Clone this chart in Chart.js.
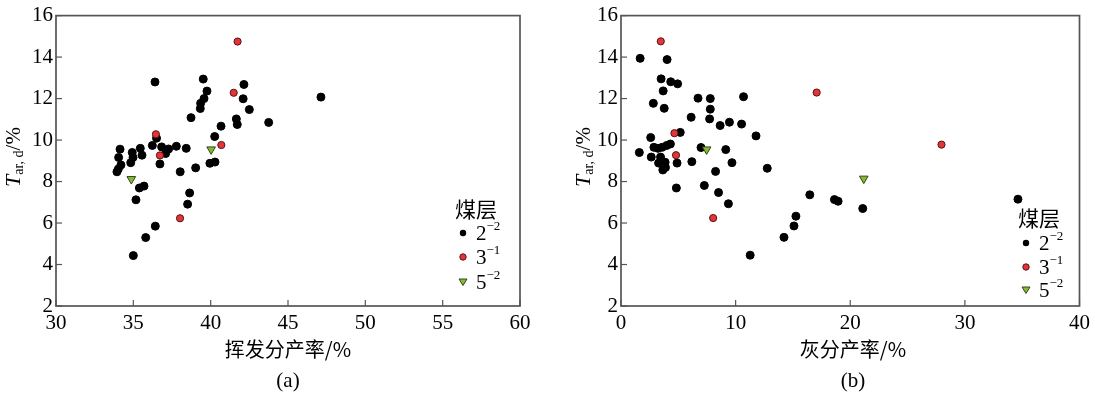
<!DOCTYPE html>
<html>
<head>
<meta charset="utf-8">
<script src="https://cdn.jsdelivr.net/npm/chart.js@4.4.1/dist/chart.umd.min.js"></script>
<style>
  body{margin:0;background:#fff;width:1095px;height:395px;overflow:hidden;}
  canvas{position:absolute;top:0;}
</style>
</head>
<body>
<canvas id="chartA" width="548" height="395" style="left:0"></canvas>
<canvas id="chartB" width="547" height="395" style="left:548px"></canvas>
<script>
// ---- data (a) volatile yield vs tar yield ----
const volX_22 = [36.4,39.52,42.15,39.76,42.1,39.57,39.35,39.33,42.5,38.73,47.13,43.75,41.66,41.72,40.67,40.26,36.5,
  34.14,34.93,35.45,36.23,36.83,37.28,37.78,38.42,34.05,34.98,35.56,37.09,34.2,34.83,34.03,33.94,36.72,38.03,39.03,
  39.95,40.28,35.39,35.69,35.17,38.64,38.51,36.42,35.8,35.0];
const volY_22 = [12.8,12.94,12.68,12.36,11.99,12.0,11.77,11.52,11.47,11.08,12.07,10.85,11.02,10.75,10.67,10.17,10.09,
  9.56,9.4,9.6,9.74,9.67,9.57,9.7,9.6,9.16,9.16,9.27,9.35,8.8,8.91,8.6,8.47,8.85,8.47,8.66,
  8.88,8.94,7.69,7.78,7.12,7.45,6.91,5.85,5.3,4.43];
const volX_31 = [41.74,41.49,36.46,40.69,36.72,38.02];
const volY_31 = [14.75,12.28,10.28,9.76,9.26,6.23];
const volX_52 = [40.03,34.87];
const volY_52 = [9.55,8.12];

// ---- data (b) ash yield vs tar yield ----
const ashX_22 = [1.67,4.02,3.5,4.34,4.94,3.68,6.72,7.79,10.69,2.82,7.79,3.77,6.12,7.73,9.46,10.52,8.65,11.78,5.17,2.59,
  6.98,9.14,1.6,2.87,3.22,3.59,3.99,4.31,2.64,3.45,3.28,3.85,4.89,6.18,3.65,3.88,8.25,9.68,12.76,4.83,7.27,8.51,9.37,
  11.27,14.22,15.09,15.26,16.47,18.62,18.94,21.09,34.63];
const ashY_22 = [13.94,13.88,12.95,12.81,12.71,12.37,12.02,12.0,12.09,11.77,11.49,11.53,11.1,11.02,10.86,10.77,10.7,10.2,10.37,10.12,
  9.64,9.54,9.4,9.65,9.6,9.65,9.74,9.81,9.18,9.18,8.89,8.93,8.89,8.96,8.56,8.68,8.49,8.91,8.64,7.69,7.81,7.47,6.93,
  4.45,5.31,5.86,6.33,7.36,7.13,7.05,6.7,7.15];
const ashX_31 = [3.47,17.07,4.66,27.96,4.8,8.04];
const ashY_31 = [14.76,12.29,10.33,9.78,9.27,6.24];
const ashX_52 = [7.47,21.18];
const ashY_52 = [9.55,8.14];

const seamLabels = ["2", "3", "5"];
const seamSups = ["\u22122", "\u22121", "\u22122"];

const AXIS = "#555555";
const SERIF = "'Liberation Serif','Times New Roman',serif";
const CJK = "'Noto Sans CJK SC','Noto Sans CJK JP',sans-serif";

function pts(xs, ys){ return xs.map((x,i)=>({x:x, y:ys[i]})); }

function drawMarker(ctx, kind, x, y){
  ctx.save();
  ctx.lineWidth = 1;
  if(kind===0){ ctx.fillStyle="#000"; ctx.beginPath(); ctx.arc(x,y,3.2,0,Math.PI*2); ctx.fill(); }
  else if(kind===1){ ctx.fillStyle="#e3343a"; ctx.strokeStyle="#5a1212"; ctx.beginPath(); ctx.arc(x,y,3.2,0,Math.PI*2); ctx.fill(); ctx.stroke(); }
  else { ctx.fillStyle="#86b83a"; ctx.strokeStyle="#2f4a12"; ctx.beginPath(); ctx.moveTo(x-4,y-3); ctx.lineTo(x+4,y-3); ctx.lineTo(x,y+3.5); ctx.closePath(); ctx.fill(); ctx.stroke(); }
  ctx.restore();
}

function makePanel(id, opt){
  const deco = {
    id: "deco",
    afterDraw(chart){
      const ctx = chart.ctx, a = chart.chartArea;
      const xs = chart.scales.x, ys = chart.scales.y;
      ctx.save();
      // frame
      ctx.strokeStyle = AXIS; ctx.lineWidth = 1.7;
      ctx.strokeRect(a.left, a.top, a.right - a.left, a.bottom - a.top);
      // inward ticks
      ctx.lineWidth = 1.2;
      xs.ticks.forEach(t=>{
        const px = xs.getPixelForValue(t.value);
        ctx.beginPath(); ctx.moveTo(px, a.bottom); ctx.lineTo(px, a.bottom - 6); ctx.stroke();
      });
      ys.ticks.forEach(t=>{
        const py = ys.getPixelForValue(t.value);
        ctx.beginPath(); ctx.moveTo(a.left, py); ctx.lineTo(a.left + 6, py); ctx.stroke();
      });
      ctx.fillStyle = "#000";
      // x title and panel tag
      ctx.textAlign = "center"; ctx.textBaseline = "middle";
      ctx.font = "20px " + CJK;
      ctx.fillText(opt.xTitle, opt.xTitleX, 349);
      ctx.font = "21px " + SERIF;
      ctx.fillText(opt.tag, opt.xTitleX, 381);
      // y title: T_{ar,d}/%
      ctx.save();
      ctx.translate(opt.yTitleX, 157);
      ctx.rotate(-Math.PI/2);
      ctx.textAlign = "left"; ctx.textBaseline = "middle";
      const fT = "italic 22px " + SERIF, fS = "14px " + SERIF, fN = "21px " + SERIF;
      ctx.font = fT; const wT = ctx.measureText("T").width;
      ctx.font = fS; const wS = ctx.measureText("ar, d").width;
      ctx.font = fN; const wN = ctx.measureText("/%").width;
      let x0 = -(wT + wS + wN)/2;
      ctx.font = fT; ctx.fillText("T", x0, 0); x0 += wT;
      ctx.font = fS; ctx.fillText("ar, d", x0, 5); x0 += wS;
      ctx.font = fN; ctx.fillText("/%", x0, 0);
      ctx.restore();
      // legend
      const L = opt.legend;
      ctx.textAlign = "left"; ctx.textBaseline = "middle";
      ctx.font = "21px " + CJK;
      ctx.fillText("煤层", L.x - 8, L.y);
      seamLabels.forEach((s,i)=>{
        const yy = L.y + L.gaps[i];
        drawMarker(ctx, i, L.x, yy);
        ctx.font = "21px " + SERIF;
        ctx.fillText(s, L.x + 13, yy + 1);
        const w = ctx.measureText(s).width;
        ctx.font = "13px " + SERIF;
        ctx.fillText(seamSups[i], L.x + 13 + w, yy - 6);
      });
      ctx.restore();
    }
  };

  return new Chart(document.getElementById(id), {
    type: "scatter",
    data: {
      datasets: [
        {label:"2-2", data: pts(opt.x22, opt.y22), order: 3, pointRadius: 4, pointBackgroundColor: "#000",
          pointBorderColor: "#000", pointBorderWidth: 1},
        {label:"3-1", data: pts(opt.x31, opt.y31), order: 1, pointRadius: 3.6, pointBackgroundColor: "#e3343a",
          pointBorderColor: "#5a1212", pointBorderWidth: 1},
        {label:"5-2", data: pts(opt.x52, opt.y52), order: 2, pointStyle: "triangle", rotation: 180, pointRadius: 5,
          pointBackgroundColor: "#86b83a", pointBorderColor: "#2f4a12", pointBorderWidth: 1}
      ]
    },
    options: {
      responsive: false,
      animation: false,
      layout: { padding: { top: 9, right: opt.padRight, left: 0, bottom: 0 } },
      plugins: { legend: { display: false }, tooltip: { enabled: false } },
      scales: {
        x: {
          type: "linear", min: opt.xMin, max: opt.xMax,
          ticks: { stepSize: opt.xStep, color: "#000", padding: 5, font: { family: SERIF, size: 21 } },
          grid: { display: true, drawOnChartArea: false, drawTicks: false },
          border: { display: false },
          afterFit(s){ s.height = 89; }
        },
        y: {
          min: 2, max: 16,
          ticks: { stepSize: 2, color: "#000", padding: 3, font: { family: SERIF, size: 21 } },
          grid: { display: true, drawOnChartArea: false, drawTicks: false },
          border: { display: false },
          afterFit(s){ s.width = opt.yWidth; }
        }
      }
    },
    plugins: [deco]
  });
}

makePanel("chartA", {
  x22: volX_22, y22: volY_22, x31: volX_31, y31: volY_31, x52: volX_52, y52: volY_52,
  xMin: 30, xMax: 60, xStep: 5, padRight: 28, yWidth: 56,
  xTitle: "挥发分产率/%", xTitleX: 288, tag: "(a)", yTitleX: 14,
  legend: { x: 463, y: 209, gaps: [24, 48, 73] }
});
makePanel("chartB", {
  x22: ashX_22, y22: ashY_22, x31: ashX_31, y31: ashY_31, x52: ashX_52, y52: ashY_52,
  xMin: 0, xMax: 40, xStep: 10, padRight: 10, yWidth: 73,
  xTitle: "灰分产率/%", xTitleX: 305, tag: "(b)", yTitleX: 36,
  legend: { x: 478, y: 218, gaps: [25, 49, 72] }
});
</script>
</body>
</html>
